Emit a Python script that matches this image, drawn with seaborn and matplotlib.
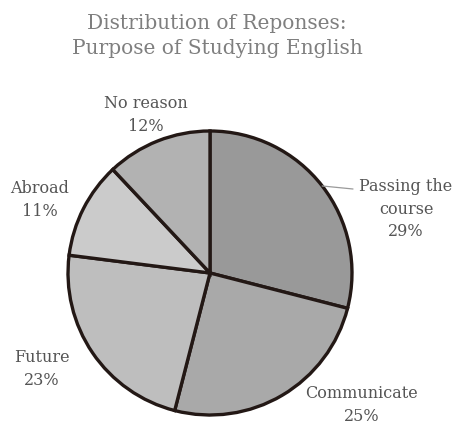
import matplotlib
matplotlib.use("Agg")
import matplotlib.pyplot as plt
import seaborn as sns
import numpy as np

categories = ["Passing the\ncourse", "Communicate", "Future", "Abroad", "No reason"]
values = [29, 25, 23, 11, 12]
colors = ["#999999", "#a9a9a9", "#bebebe", "#cbcbcb", "#b2b2b2"]
title = "Distribution of Reponses:\nPurpose of Studying English"

sns.set_theme(style="white")
plt.rcParams["font.family"] = ["DejaVu Serif"]

fig = plt.figure(figsize=(4.61, 4.24), dpi=100)
ax = fig.add_axes([0, 0, 1, 1])
cx, cy, R = 210, 273, 142  # pixel centre and radius

wedges, _ = ax.pie(values, colors=colors, startangle=90, counterclock=False,
                   radius=1.0, center=(0, 0),
                   wedgeprops=dict(edgecolor="#231815", linewidth=2.4))
ax.set_aspect("auto")
ax.set_xlim(-cx / R, (461 - cx) / R)
ax.set_ylim((cy - 424) / R, cy / R)
ax.axis("off")

# label placements (pixel positions of label centres)
label_px = [(406, 209), (362, 405), (42, 369), (40, 200), (146, 115)]
txtcol = "#555555"
for w, cat, v, (px, py) in zip(wedges, categories, values, label_px):
    x = (px - cx) / R
    y = (cy - py) / R
    ax.text(x, y, f"{cat}\n{v}%", ha="center", va="center", fontsize=11.5,
            color=txtcol, linespacing=1.45)

# leader line for first wedge
w = wedges[0]
mid = np.deg2rad((w.theta1 + w.theta2) / 2)
x0, y0 = np.cos(mid), np.sin(mid)
ax.plot([x0, (353 - cx) / R], [y0, (cy - 189) / R], color="#9a9a9a", lw=0.9)

fig.text(217 / 461, 1 - 36 / 424, title, ha="center", va="center",
         fontsize=14.5, color="#7f7f7f", linespacing=1.35)

fig.savefig("out.png", dpi=100, facecolor="white")
